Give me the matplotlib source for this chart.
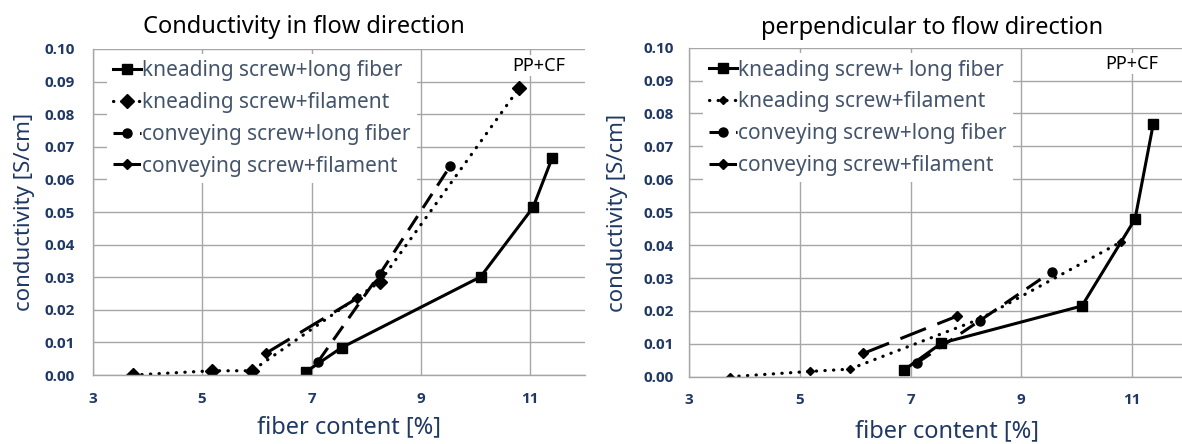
import matplotlib
matplotlib.use("Agg")
import matplotlib.pyplot as plt

plt.rcParams['font.family'] = ['Noto Sans', 'DejaVu Sans']

# ---- data ----
labels_left = ['kneading screw+long fiber', 'kneading screw+filament',
               'conveying screw+long fiber', 'conveying screw+filament']
labels_right = ['kneading screw+ long fiber', 'kneading screw+filament',
                'conveying screw+long fiber', 'conveying screw+filament']

# flow direction
kl_x_flow = [6.90, 7.55, 10.09, 11.05, 11.40]
kl_y_flow = [0.0010, 0.0084, 0.0301, 0.0514, 0.0666]
kf_x_flow = [3.74, 5.19, 5.91, 8.25, 10.80]
kf_y_flow = [0.0000, 0.0013, 0.0013, 0.0286, 0.0881]
cl_x_flow = [7.12, 8.25, 9.54]
cl_y_flow = [0.0041, 0.0310, 0.0642]
cf_x_flow = [6.17, 7.83]
cf_y_flow = [0.0067, 0.0235]

# perpendicular to flow direction
kl_x_perp = [6.88, 7.56, 10.10, 11.06, 11.39]
kl_y_perp = [0.0020, 0.0102, 0.0215, 0.0479, 0.0768]
kf_x_perp = [3.74, 5.18, 5.90, 8.25, 10.81]
kf_y_perp = [0.0000, 0.0016, 0.0023, 0.0175, 0.0410]
cl_x_perp = [7.11, 8.25, 9.55]
cl_y_perp = [0.0041, 0.0170, 0.0319]
cf_x_perp = [6.15, 7.84]
cf_y_perp = [0.0071, 0.0184]

x_ticks = [3, 5, 7, 9, 11]
x_tick_labels = ['3', '5', '7', '9', '11']
y_ticks = [0.00, 0.01, 0.02, 0.03, 0.04, 0.05, 0.06, 0.07, 0.08, 0.09, 0.10]
y_tick_labels = ['0.00', '0.01', '0.02', '0.03', '0.04', '0.05',
                 '0.06', '0.07', '0.08', '0.09', '0.10']

NAVY = '#1f3864'
LEGTXT = '#44546a'
GRID = '#a6a6a6'
W, H = 1182, 444
TICKFONT = dict(fontfamily=['Open Sans', 'DejaVu Sans'], fontweight='bold')


def style_axes(ax, ypad):
    ax.set_xlim(3, 12)
    ax.set_ylim(0, 0.1)
    ax.set_xticks(x_ticks, labels=x_tick_labels, **TICKFONT)
    ax.set_yticks(y_ticks, labels=y_tick_labels, **TICKFONT)
    ax.grid(True, color=GRID, lw=1.0)
    ax.set_axisbelow(True)
    for s in ['top', 'right']:
        ax.spines[s].set_visible(False)
    for s in ['left', 'bottom']:
        ax.spines[s].set_color(GRID)
        ax.spines[s].set_linewidth(1.0)
    ax.tick_params(length=0, labelsize=11, labelcolor=NAVY)
    ax.tick_params(axis='y', pad=ypad)
    ax.tick_params(axis='x', pad=12)


def draw(ax, kl, kf, cl, cf, labels, kf_ms, anchor):
    h1, = ax.plot(*kl, color='black', lw=2.2, marker='s', ms=7.5)
    h2, = ax.plot(*kf, color='black', lw=2.3, ls=(0, (0.1, 2.6)),
                  dash_capstyle='round', marker='D', ms=kf_ms)
    h3, = ax.plot(*cl, color='black', lw=2.2, ls=(0, (5.5, 3.2)),
                  marker='o', ms=6.5)
    h4, = ax.plot(*cf, color='black', lw=2.2, ls=(0, (9, 4)),
                  marker='D', ms=5)
    leg = ax.legend([h1, h2, h3, h4], labels, loc='upper left',
                    bbox_to_anchor=anchor, borderaxespad=0, fontsize=15,
                    frameon=True, fancybox=False, framealpha=1,
                    facecolor='white', edgecolor='none', handlelength=1.35,
                    handletextpad=0.05, labelspacing=0.52, borderpad=0.3,
                    numpoints=1, labelcolor=LEGTXT)
    return leg


fig = plt.figure(figsize=(W / 100, H / 100), dpi=100)
ax1 = fig.add_axes([92.7 / W, 1 - 375 / H, 492.3 / W, 326 / H])
ax2 = fig.add_axes([689.3 / W, 1 - 376.7 / H, 497.7 / W, 329 / H])

style_axes(ax1, 13)
style_axes(ax2, 11)

draw(ax1, (kl_x_flow, kl_y_flow), (kf_x_flow, kf_y_flow),
     (cl_x_flow, cl_y_flow), (cf_x_flow, cf_y_flow), labels_left, 7.5,
     (0.029, 0.985))
draw(ax2, (kl_x_perp, kl_y_perp), (kf_x_perp, kf_y_perp),
     (cl_x_perp, cl_y_perp), (cf_x_perp, cf_y_perp), labels_right, 4.5,
     (0.0275, 0.983))

box = dict(facecolor='white', edgecolor='none', pad=1)
ax1.text(11.16, 0.0949, 'PP+CF', ha='center', va='center', fontsize=13,
         color='black', bbox=box)
ax2.text(11.0, 0.0951, 'PP+CF', ha='center', va='center', fontsize=13,
         color='black', bbox=box)

# titles and axis labels placed in figure pixels
fig.text(304 / W, 1 - 33.3 / H, 'Conductivity in flow direction',
         ha='center', va='baseline', fontsize=17, color='black')
fig.text(932 / W, 1 - 34 / H, 'perpendicular to flow direction',
         ha='center', va='baseline', fontsize=17, color='black')
fig.text(24.3 / W, 1 - 212 / H, 'conductivity [S/cm]', rotation=90,
         ha='center', va='center', fontsize=16, color=NAVY)
fig.text(617 / W, 1 - 212.5 / H, 'conductivity [S/cm]', rotation=90,
         ha='center', va='center', fontsize=16, color=NAVY)
fig.text(349 / W, 1 - 433.3 / H, 'fiber content [%]',
         ha='center', va='baseline', fontsize=17, color=NAVY)
fig.text(947 / W, 1 - 437.5 / H, 'fiber content [%]',
         ha='center', va='baseline', fontsize=17, color=NAVY)

fig.savefig('out.png', dpi=100)
